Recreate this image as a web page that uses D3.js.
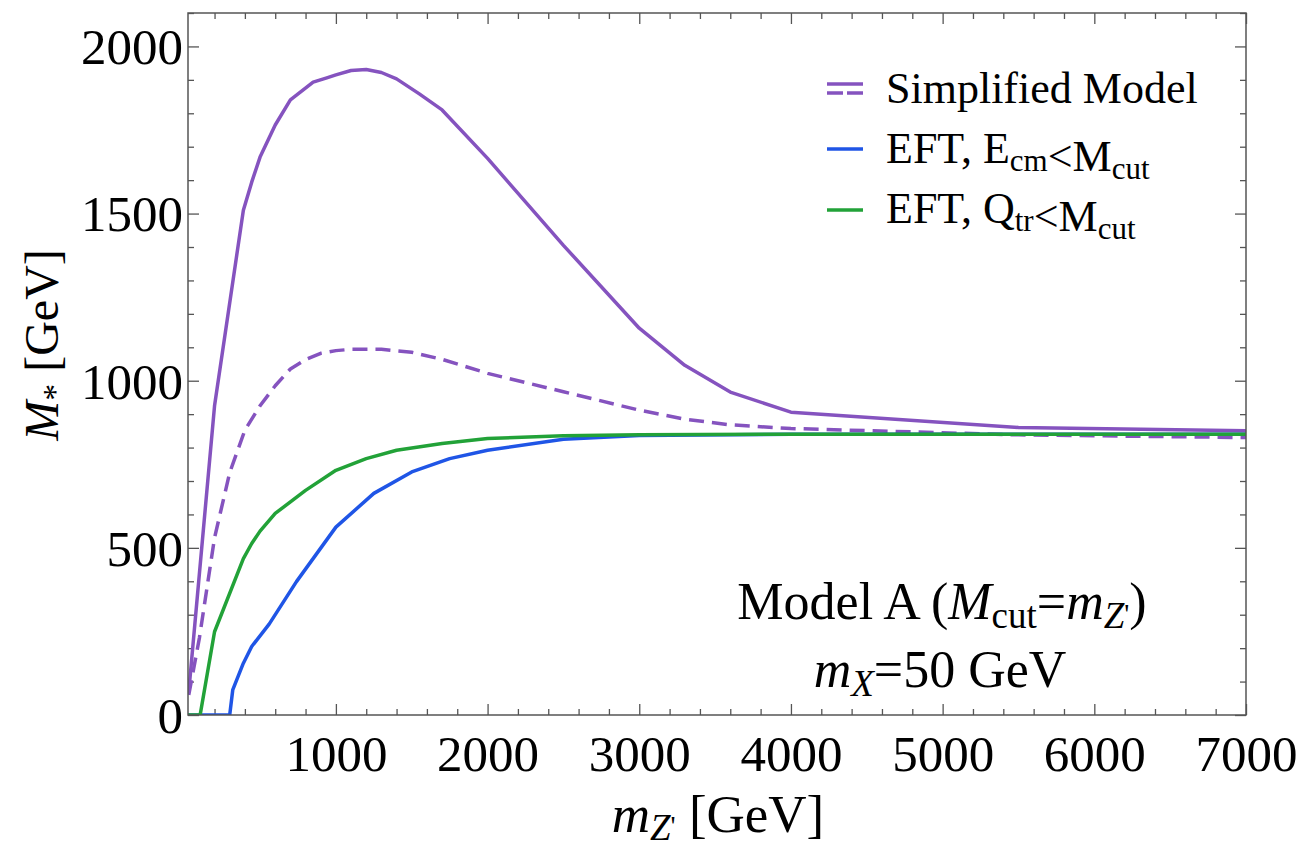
<!DOCTYPE html>
<html lang="en">
<head>
    <meta charset="UTF-8">
    <title>M* vs mZ'</title>
    <script src="https://d3js.org/d3.v7.min.js"></script>
    <style>
        body { margin: 0; background: #fff; }
        svg { font-family: "Liberation Serif", "Times New Roman", serif; }
        .frame { fill: none; stroke: #555; stroke-width: 1.5; }
        .tick line { stroke: #555; stroke-width: 1.3; }
        .tick text { font-family: "Liberation Serif", "Times New Roman", serif; font-size: 51px; fill: #000; }
        .series { fill: none; stroke-width: 3.5; stroke-linejoin: round; }
        .lbl { font-size: 44px; fill: #000; }
        .note { font-size: 52px; fill: #000; }
    </style>
</head>
<body>
<script>
    const width = 1307;
    const height = 851;
    const margin = {left: 188, right: 61, top: 13, bottom: 136};

    // [mZ' (GeV), M* (GeV)]
    const simplifiedFull = [[30,70],[200,925],[390,1510],[445,1594],[500,1669],[600,1765],[700,1840],[850,1893],[940,1906],
        [1000,1915],[1100,1928],[1200,1931],[1300,1922],[1400,1903],[1550,1858],[1700,1810],[2000,1665],[2500,1405],
        [3000,1157],[3300,1046],[3600,966],[4000,906],[5500,860],[7000,850]];
    const simplifiedDashed = [[30,60],[100,230],[200,530],[300,725],[400,852],[500,925],[600,985],[700,1035],[800,1063],
        [900,1082],[1000,1090],[1100,1094],[1300,1094],[1500,1085],[1700,1064],[2000,1022],[2500,967],[3000,912],
        [3300,885],[3600,868],[4000,857],[5500,838],[7000,830]];
    const eftEcm = [[25,0],[300,0],[320,75],[390,155],[445,205],[560,272],[740,399],[1000,562],[1250,663],[1500,727],
        [1750,767],[2000,792],[2500,825],[3000,836],[4000,840],[7000,840]];
    const eftQtr = [[25,0],[105,0],[200,249],[390,468],[445,513],[500,550],[600,603],[800,672],[1000,732],[1200,767],
        [1400,792],[1700,812],[2000,827],[2500,835],[3000,838],[4000,840],[7000,840]];

    const xMajor = [1000, 2000, 3000, 4000, 5000, 6000, 7000];
    const xMinor = d3.range(200, 7001, 200);
    const yMajor = [0, 500, 1000, 1500, 2000];
    const yMinor = d3.range(0, 2101, 100);

    const purple = "#8553bf", blue = "#1f55e6", green = "#22a238";

    const svg = d3.select("body").append("svg")
        .attr("width", width).attr("height", height);

    const x = d3.scaleLinear().domain([25, 7000]).range([margin.left, width - margin.right]);
    const y = d3.scaleLinear().domain([0, 2100]).range([height - margin.bottom, margin.top]);

    const x0 = x.range()[0], x1 = x.range()[1], y0 = y.range()[0], y1 = y.range()[1];

    svg.append("defs").append("clipPath").attr("id", "clip")
        .append("rect").attr("x", x0).attr("y", y1).attr("width", x1 - x0).attr("height", y0 - y1);

    // ticks, all pointing inward
    function ticks(axisFn, scale, vals, size, pos, labels) {
        const a = axisFn(scale).tickValues(vals).tickSize(size).tickSizeOuter(0)
            .tickFormat(labels ? d3.format("d") : "");
        const g = svg.append("g").attr("transform", pos).call(a);
        g.select(".domain").remove();
        return g;
    }
    const xb = ticks(d3.axisBottom, x, xMajor, -11, `translate(0,${y0})`, true);
    xb.selectAll("text").attr("y", 56).attr("dy", null);
    ticks(d3.axisBottom, x, xMinor.filter(v => v % 1000), -6, `translate(0,${y0})`);
    ticks(d3.axisTop, x, xMajor, -11, `translate(0,${y1})`);
    ticks(d3.axisTop, x, xMinor.filter(v => v % 1000), -6, `translate(0,${y1})`);

    const yl = ticks(d3.axisLeft, y, yMajor, -11, `translate(${x0},0)`, true);
    yl.selectAll("text").attr("x", -5).attr("dy", "0.34em");
    ticks(d3.axisLeft, y, yMinor.filter(v => v % 500), -6, `translate(${x0},0)`);
    ticks(d3.axisRight, y, yMajor, -11, `translate(${x1},0)`);
    ticks(d3.axisRight, y, yMinor.filter(v => v % 500), -6, `translate(${x1},0)`);

    // curves
    const line = d3.line().x(d => x(d[0])).y(d => y(d[1]));
    const plot = svg.append("g").attr("clip-path", "url(#clip)");
    plot.append("path").attr("class", "series").attr("stroke", purple).attr("d", line(simplifiedFull));
    plot.append("path").attr("class", "series").attr("stroke", purple)
        .attr("stroke-dasharray", "15,8").attr("d", line(simplifiedDashed));
    plot.append("path").attr("class", "series").attr("stroke", blue).attr("d", line(eftEcm));
    plot.append("path").attr("class", "series").attr("stroke", green).attr("d", line(eftQtr));

    svg.append("rect").attr("class", "frame")
        .attr("x", x0).attr("y", y1).attr("width", x1 - x0).attr("height", y0 - y1);

    // legend
    const leg = svg.append("g");
    leg.append("line").attr("x1", 827).attr("x2", 863).attr("y1", 84).attr("y2", 84)
        .attr("stroke", purple).attr("stroke-width", 3.5);
    leg.append("line").attr("x1", 827).attr("x2", 863).attr("y1", 93).attr("y2", 93)
        .attr("stroke", purple).attr("stroke-width", 3.5).attr("stroke-dasharray", "16,4");
    leg.append("line").attr("x1", 827).attr("x2", 863).attr("y1", 149).attr("y2", 149)
        .attr("stroke", blue).attr("stroke-width", 3.5);
    leg.append("line").attr("x1", 827).attr("x2", 863).attr("y1", 210).attr("y2", 210)
        .attr("stroke", green).attr("stroke-width", 3.5);

    leg.append("text").attr("class", "lbl").attr("x", 886).attr("y", 103).text("Simplified Model");

    function sub(t, main, s, size) {
        t.append("tspan").text(main);
        t.append("tspan").attr("dy", 8).style("font-size", size).text(s);
        t.append("tspan").attr("dy", -8).text("");
    }
    const t2 = leg.append("text").attr("class", "lbl").attr("x", 886).attr("y", 163);
    t2.append("tspan").text("EFT, ");
    sub(t2, "E", "cm", "31px");
    sub(t2, "<M", "cut", "31px");
    const t3 = leg.append("text").attr("class", "lbl").attr("x", 886).attr("y", 223);
    t3.append("tspan").text("EFT, ");
    sub(t3, "Q", "tr", "31px");
    sub(t3, "<M", "cut", "31px");

    // annotation
    const a1 = svg.append("text").attr("class", "note").attr("x", 942).attr("y", 619).attr("text-anchor", "middle");
    a1.append("tspan").text("Model A (");
    a1.append("tspan").style("font-style", "italic").text("M");
    a1.append("tspan").attr("dy", 9).style("font-size", "37px").text("cut");
    a1.append("tspan").attr("dy", -9).text("=");
    a1.append("tspan").style("font-style", "italic").text("m");
    a1.append("tspan").attr("dy", 9).style("font-size", "37px").style("font-style", "italic").text("Z");
    a1.append("tspan").attr("dy", -5).style("font-size", "28px").text("'");
    a1.append("tspan").attr("dy", -4).text(")");

    const a2 = svg.append("text").attr("class", "note").attr("x", 940).attr("y", 687).attr("text-anchor", "middle");
    a2.append("tspan").style("font-style", "italic").text("m");
    a2.append("tspan").attr("dy", 9).style("font-size", "37px").style("font-style", "italic").text("X");
    a2.append("tspan").attr("dy", -9).text("=50 GeV");

    // axis titles
    const xt = svg.append("text").attr("class", "lbl").attr("x", 718).attr("y", 832).attr("text-anchor", "middle")
        .style("font-size", "53px");
    xt.append("tspan").style("font-style", "italic").text("m");
    xt.append("tspan").attr("dy", 8).style("font-size", "37px").style("font-style", "italic").text("Z");
    xt.append("tspan").attr("dy", -5).style("font-size", "28px").text("'");
    xt.append("tspan").attr("dy", -3).text(" [GeV]");

    const yt = svg.append("text").attr("class", "lbl").attr("transform", "translate(58,345) rotate(-90)")
        .attr("text-anchor", "middle").style("font-size", "48px");
    yt.append("tspan").style("font-style", "italic").text("M");
    yt.append("tspan").attr("dy", 8).style("font-size", "34px").text("*");
    yt.append("tspan").attr("dy", -8).text(" [GeV]");
</script>
</body>
</html>
